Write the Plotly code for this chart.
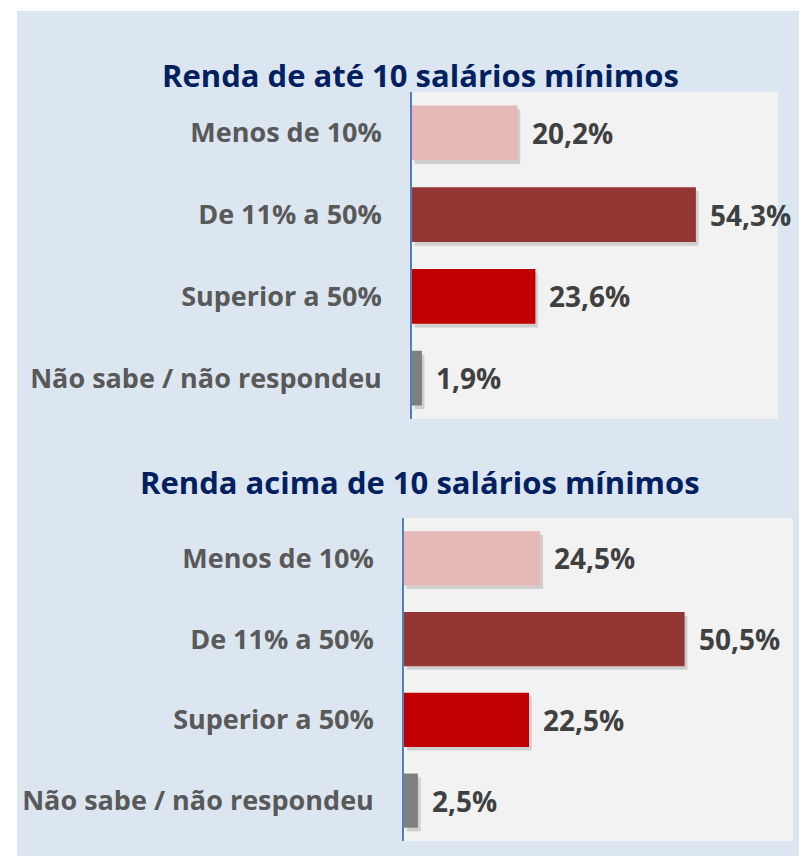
import plotly.graph_objects as go

categories = ["Menos de 10%", "De 11% a 50%", "Superior a 50%", "Não sabe / não respondeu"]
ate_10 = [20.2, 54.3, 23.6, 1.9]
acima_10 = [24.5, 50.5, 22.5, 2.5]
titles = ["Renda de até 10 salários mínimos", "Renda acima de 10 salários mínimos"]
bar_colors = ["#e6b9b8", "#943634", "#c00000", "#7f7f7f"]

# the page body adds an 8px margin, so work in page pixels and subtract it
OFF = 8
W, H = 807 - OFF, 856 - OFF
FONT = "Open Sans"


def px(x):
    return (x - OFF) / W


def py(y):
    return 1 - (y - OFF) / H


fig = go.Figure()

# page-pixel boxes of the two plot areas (left, top, right, bottom)
boxes = [(412, 92, 778, 419), (404, 518, 793, 841)]
title_y = [75, 482]
BW = 0.67

for i, (vals, box) in enumerate(zip([ate_10, acima_10], boxes)):
    xa = "x" if i == 0 else "x2"
    ya = "y" if i == 0 else "y2"
    # soft drop shadow under each bar
    fig.add_trace(go.Bar(
        x=vals, y=categories, orientation="h", base=0.5,
        width=BW, offset=-BW / 2 + 0.045,
        marker=dict(color="rgba(0,0,0,0.14)", line=dict(width=0)),
        xaxis=xa, yaxis=ya, hoverinfo="skip", showlegend=False,
    ))
    fig.add_trace(go.Bar(
        x=vals, y=categories, orientation="h",
        width=BW, offset=-BW / 2,
        marker=dict(color=bar_colors, line=dict(width=0)),
        xaxis=xa, yaxis=ya, hoverinfo="skip", showlegend=False,
    ))
    for v, c in zip(vals, categories):
        fig.add_annotation(
            x=v, y=c, xref=xa, yref=ya, xanchor="left", yanchor="middle",
            xshift=12, showarrow=False,
            text=f"{v:.1f}%".replace(".", ","),
            font=dict(family=FONT, size=28, color="#404040", weight="bold"),
        )
    l, t, r, b = box
    fig.add_annotation(
        x=px(420), y=py(title_y[i]), xref="paper", yref="paper",
        xanchor="center", yanchor="middle", showarrow=False,
        text=titles[i],
        font=dict(family=FONT, size=31, color="#002060", weight="bold"),
    )
    xkey = "xaxis" if i == 0 else "xaxis2"
    ykey = "yaxis" if i == 0 else "yaxis2"
    fig.update_layout({
        xkey: dict(domain=[px(l), px(r)], range=[0, 70], showgrid=False,
                   zeroline=False, showticklabels=False, fixedrange=True,
                   anchor=ya),
        ykey: dict(domain=[py(b), py(t)], autorange="reversed",
                   showline=True, linecolor="#4f81bd", linewidth=1.5,
                   ticks="", ticklabelstandoff=23, showgrid=False,
                   tickfont=dict(family=FONT, size=27, color="#595959", weight="bold"),
                   anchor=xa),
    })

# white strips on top and left of the light blue panel
fig.add_shape(type="rect", xref="paper", yref="paper",
              x0=0, x1=1, y0=py(11), y1=1,
              fillcolor="white", line=dict(width=0), layer="below")
fig.add_shape(type="rect", xref="paper", yref="paper",
              x0=0, x1=px(17), y0=0, y1=1,
              fillcolor="white", line=dict(width=0), layer="below")

fig.update_layout(
    width=W, height=H,
    margin=dict(l=0, r=0, t=0, b=0),
    paper_bgcolor="#dce6f1",
    plot_bgcolor="#f2f2f2",
    barmode="overlay",
)

fig.write_html("out.html")
